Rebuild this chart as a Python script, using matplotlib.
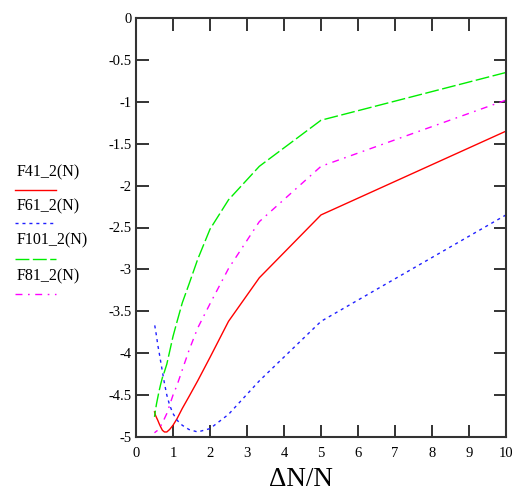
import matplotlib
matplotlib.use("Agg")
import matplotlib.pyplot as plt
from matplotlib.lines import Line2D

plt.rcParams['axes.unicode_minus'] = False
plt.rcParams['font.family'] = ['Liberation Serif', 'DejaVu Serif']

# sample points: dN/N = 10/k, k = 1..20
dn = [10.0, 5.0, 3.333, 2.5, 2.0, 1.667, 1.429, 1.25, 1.111, 1.0,
      0.909, 0.833, 0.769, 0.714, 0.667, 0.625, 0.588, 0.556, 0.526, 0.5]

f41 = [-1.35, -2.35, -3.10, -3.62, -4.05, -4.33, -4.52, -4.66, -4.78, -4.86,
       -4.91, -4.94, -4.94, -4.92, -4.88, -4.84, -4.80, -4.77, -4.74, -4.70]
f61 = [-2.35, -3.62, -4.33, -4.73, -4.90, -4.94, -4.91, -4.86, -4.80, -4.72,
       -4.62, -4.50, -4.36, -4.22, -4.10, -3.99, -3.90, -3.80, -3.72, -3.65]
f101 = [-0.65, -1.22, -1.77, -2.17, -2.52, -2.88, -3.18, -3.40, -3.62, -3.80,
        -3.98, -4.13, -4.22, -4.29, -4.37, -4.45, -4.53, -4.60, -4.68, -4.76]
f81 = [-0.98, -1.77, -2.43, -2.99, -3.41, -3.70, -3.97, -4.20, -4.38, -4.50,
       -4.62, -4.72, -4.78, -4.83, -4.87, -4.90, -4.92, -4.93, -4.94, -4.95]

series_names = ["F41_2(N)", "F61_2(N)", "F101_2(N)", "F81_2(N)"]
series_vals = [f41, f61, f101, f81]
colors = ["#ff0000", "#2020ff", "#00ee00", "#ff00ff"]
styles = [dict(linestyle='-'),
          dict(linestyle=(0, (2.2, 2.8))),
          dict(linestyle=(0, (10, 2.5))),
          dict(linestyle=(0, (5, 4, 1.2, 4)))]

x_ticks = list(range(0, 11))
y_ticks = [0, -0.5, -1, -1.5, -2, -2.5, -3, -3.5, -4, -4.5, -5]
y_labels = ["0", "-0.5", "-1", "-1.5", "-2", "-2.5", "-3", "-3.5", "-4", "-4.5", "-5"]

fig = plt.figure(figsize=(5.12, 4.93), dpi=100)
ax = fig.add_axes([136/512, 1 - 437/493, 370/512, 419/493])

for vals, c, st in zip(series_vals, colors, styles):
    ax.plot(dn, vals, color=c, lw=1.0, **st)

ax.set_xlim(0, 10)
ax.set_ylim(-5, 0)
ax.set_xticks(x_ticks)
ax.set_yticks(y_ticks)
ax.set_yticklabels(y_labels)
ax.tick_params(direction='in', length=9, width=1.4, color='#333333',
               labelsize=10.5, top=True, right=True, pad=3)
ax.tick_params(axis='x', pad=7)
for sp in ax.spines.values():
    sp.set_linewidth(1.5)
    sp.set_color('#333333')

# legend block to the left of the plot
text_y = [172.7, 206.7, 240.7, 276.7]
line_y = [190, 223, 259, 294]
for name, c, st, ty, ly in zip(series_names, colors, styles, text_y, line_y):
    fig.text(17/512, 1 - ty/493, name, fontsize=11.5, va='center', ha='left')
    fig.add_artist(Line2D([15/512, 56/512], [1 - ly/493, 1 - ly/493],
                          transform=fig.transFigure, color=c, lw=1.0, **st))

fig.text(301/512, 1.5/493, "\u0394N/N", fontsize=19.5, ha='center',
         va='bottom')

fig.savefig("out.png", dpi=100)
